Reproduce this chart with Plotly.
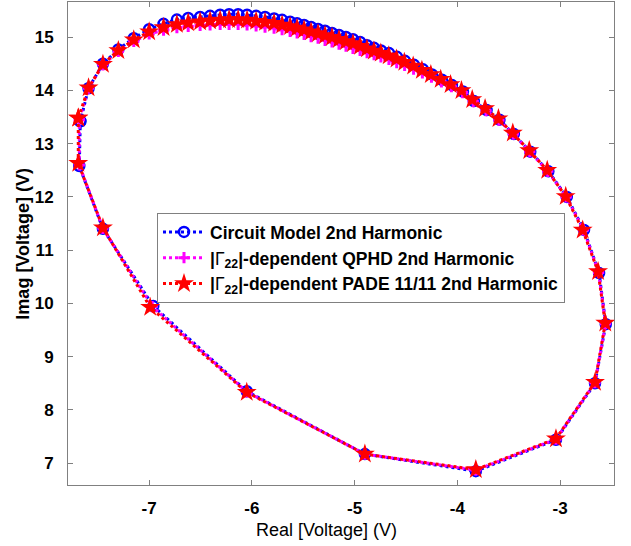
import plotly.graph_objects as go

# Circuit Model 2nd Harmonic
real_circuit = [-7.67, -7.68, -7.45, -6.96, -6.05, -4.90, -3.82, -3.04, -2.66, -2.555,
                -2.62, -2.767, -2.935, -3.114, -3.29, -3.45, -3.59, -3.715, -3.84, -3.946,
                -4.053, -4.150, -4.247, -4.335, -4.422, -4.510, -4.588, -4.665, -4.743, -4.811,
                -4.879, -4.947, -5.016, -5.084, -5.152, -5.220, -5.288, -5.356, -5.424, -5.492,
                -5.560, -5.628, -5.706, -5.784, -5.872, -5.959, -6.047, -6.134, -6.222, -6.309,
                -6.407, -6.504, -6.62, -6.73, -6.86, -7.00, -7.15, -7.30, -7.45, -7.59, -7.67]
imag_circuit = [13.42, 12.58, 11.40, 9.95, 8.35, 7.17, 6.85, 7.44, 8.50, 9.61,
                10.57, 11.38, 12.00, 12.48, 12.85, 13.18, 13.45, 13.63, 13.80, 13.98,
                14.10, 14.20, 14.30, 14.395, 14.48, 14.555, 14.63, 14.70, 14.75, 14.80,
                14.85, 14.91, 14.96, 15.005, 15.04, 15.08, 15.12, 15.155, 15.19, 15.23,
                15.26, 15.29, 15.325, 15.35, 15.38, 15.40, 15.42, 15.43, 15.43, 15.42,
                15.40, 15.38, 15.36, 15.33, 15.25, 15.15, 14.98, 14.77, 14.50, 14.04, 13.42]

# |Gamma22|-dependent QPHD 2nd Harmonic
real_qphd = [-7.68, -7.68, -7.45, -6.97, -6.05, -4.90, -3.82, -3.04, -2.66, -2.557,
             -2.625, -2.772, -2.94, -3.12, -3.295, -3.455, -3.595, -3.72, -3.845, -3.95,
             -4.058, -4.155, -4.252, -4.34, -4.426, -4.513, -4.59, -4.666, -4.744, -4.811,
             -4.879, -4.947, -5.016, -5.084, -5.152, -5.220, -5.288, -5.356, -5.424, -5.492,
             -5.560, -5.628, -5.706, -5.784, -5.872, -5.959, -6.047, -6.134, -6.222, -6.309,
             -6.407, -6.504, -6.62, -6.73, -6.86, -7.00, -7.15, -7.30, -7.45, -7.59, -7.68]
imag_qphd = [13.45, 12.60, 11.41, 9.94, 8.34, 7.17, 6.87, 7.45, 8.51, 9.62,
             10.58, 11.38, 12.00, 12.48, 12.85, 13.18, 13.44, 13.62, 13.79, 13.96,
             14.07, 14.16, 14.25, 14.33, 14.40, 14.47, 14.52, 14.58, 14.63, 14.67,
             14.71, 14.75, 14.79, 14.83, 14.87, 14.91, 14.94, 14.98, 15.01, 15.05,
             15.08, 15.11, 15.14, 15.17, 15.19, 15.21, 15.23, 15.24, 15.24, 15.24,
             15.23, 15.22, 15.20, 15.18, 15.13, 15.06, 14.92, 14.73, 14.48, 14.04, 13.45]

# |Gamma22|-dependent PADE 11/11 2nd Harmonic
real_pade = [-7.69, -7.69, -7.45, -6.99, -6.05, -4.90, -3.82, -3.04, -2.66, -2.56,
             -2.63, -2.78, -2.945, -3.125, -3.30, -3.46, -3.60, -3.73, -3.855, -3.96,
             -4.066, -4.162, -4.258, -4.345, -4.430, -4.516, -4.592, -4.668, -4.745, -4.812,
             -4.880, -4.947, -5.016, -5.084, -5.152, -5.220, -5.288, -5.356, -5.424, -5.492,
             -5.560, -5.628, -5.706, -5.784, -5.872, -5.959, -6.047, -6.134, -6.222, -6.309,
             -6.407, -6.504, -6.62, -6.73, -6.86, -7.00, -7.15, -7.30, -7.45, -7.59, -7.69]
imag_pade = [13.48, 12.63, 11.42, 9.93, 8.33, 7.17, 6.88, 7.46, 8.52, 9.63,
             10.60, 11.38, 12.01, 12.50, 12.87, 13.20, 13.47, 13.66, 13.83, 14.00,
             14.11, 14.21, 14.30, 14.38, 14.46, 14.53, 14.59, 14.65, 14.70, 14.74,
             14.78, 14.83, 14.88, 14.92, 14.96, 15.00, 15.03, 15.07, 15.10, 15.14,
             15.17, 15.20, 15.23, 15.26, 15.28, 15.30, 15.32, 15.33, 15.33, 15.32,
             15.31, 15.29, 15.27, 15.24, 15.18, 15.10, 14.95, 14.75, 14.49, 14.05, 13.48]

x_ticks = [-7, -6, -5, -4, -3]
y_ticks = [7, 8, 9, 10, 11, 12, 13, 14, 15]

names = ["Circuit Model 2nd Harmonic",
         "|<span style='font-weight:normal'>Γ</span><sub>22</sub>|-dependent QPHD 2nd Harmonic",
         "|<span style='font-weight:normal'>Γ</span><sub>22</sub>|-dependent PADE 11/11 2nd Harmonic"]

fig = go.Figure()
fig.add_trace(go.Scatter(
    x=real_circuit, y=imag_circuit, mode="lines+markers", name=names[0],
    line=dict(color="#0000ff", width=3, dash="dot"),
    marker=dict(symbol="circle-open", size=10, color="#0000ff", line=dict(width=2.5, color="#0000ff"))))
fig.add_trace(go.Scatter(
    x=real_qphd, y=imag_qphd, mode="lines+markers", name=names[1],
    line=dict(color="#ff00ff", width=3, dash="dot"),
    marker=dict(symbol="cross-thin-open", size=8, color="#ff00ff", line=dict(width=3, color="#ff00ff"))))
fig.add_trace(go.Scatter(
    x=real_pade, y=imag_pade, mode="lines+markers", name=names[2],
    line=dict(color="#ff0000", width=3, dash="dot"),
    marker=dict(symbol="star", size=15, color="#ff0000", line=dict(width=0))))

axis_common = dict(
    showline=True, linecolor="#808080", linewidth=1, mirror="ticks",
    ticks="inside", ticklen=5, tickcolor="#808080", tickwidth=1,
    showgrid=False, zeroline=False,
    tickfont=dict(family="Arial, Liberation Sans", size=17, color="#000000", weight="bold"),
)

fig.update_xaxes(range=[-7.79, -2.475], tickvals=x_ticks, ticktext=[str(v) for v in x_ticks],
                 ticklabelstandoff=8, **axis_common)
fig.update_yaxes(range=[6.59, 15.66], tickvals=y_ticks, ticktext=[str(v) for v in y_ticks],
                 ticklabelstandoff=10, **axis_common)

fig.add_annotation(text="Real [Voltage] (V)", xref="paper", yref="paper",
                   x=0.474, y=-0.093, xanchor="center", yanchor="middle", showarrow=False,
                   font=dict(family="Arial, Liberation Sans", size=18, color="#000000"))
fig.add_annotation(text="<b>Imag [Voltage] (V)</b>", xref="paper", yref="paper",
                   x=-0.084, y=0.50, xanchor="center", yanchor="middle", showarrow=False,
                   textangle=-90,
                   font=dict(family="Arial, Liberation Sans", size=18, color="#000000"))

fig.update_layout(
    width=631, height=546,
    margin=dict(l=68, r=17, t=2, b=61),
    paper_bgcolor="#ffffff", plot_bgcolor="#ffffff",
    showlegend=True,
    legend=dict(x=0.163, y=0.563, xanchor="left", yanchor="top",
                bgcolor="#ffffff", bordercolor="#808080", borderwidth=1,
                itemwidth=42,
                font=dict(family="Arial, Liberation Sans", size=17.5, color="#000000", weight="bold"),
                tracegroupgap=0),
)

fig.write_html("out.html")
